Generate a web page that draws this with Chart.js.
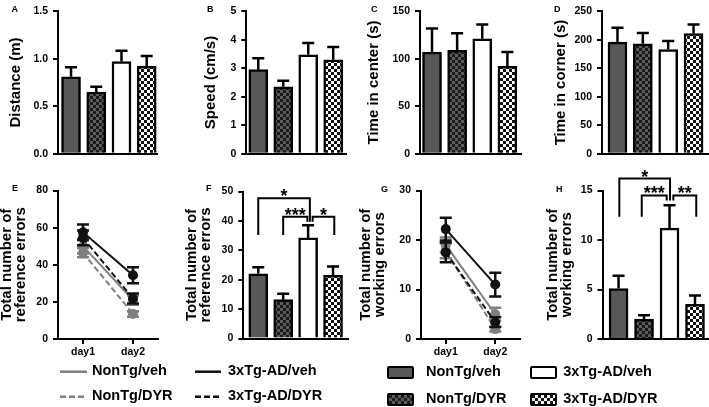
<!DOCTYPE html>
<html><head><meta charset="utf-8">
<script src="https://cdn.jsdelivr.net/npm/chart.js@4/dist/chart.umd.min.js"></script>
<style>
html,body{margin:0;padding:0;background:#fff;overflow:hidden;}
#fig{position:relative;width:709px;height:407px;overflow:hidden;font-family:"Liberation Sans",Arial,sans-serif;font-weight:bold;color:#000;}
#fig canvas{position:absolute;}
.pl{position:absolute;font-size:9px;line-height:9px;}
.lg{position:absolute;font-size:14.5px;line-height:14.5px;white-space:nowrap;}
.box{position:absolute;box-sizing:border-box;width:27px;height:13px;border:2.5px solid #000;border-radius:2px;}
svg{position:absolute;left:0;top:0;}
</style></head><body><div id="fig"></div>
<script>
// ---------------- data ----------------
const groups = ['NonTg/veh', 'NonTg/DYR', '3xTg-AD/veh', '3xTg-AD/DYR'];
const days = ['day1', 'day2'];

const distance = [0.81, 0.65, 0.97, 0.92];
const distanceSem = [0.10, 0.055, 0.115, 0.11];
const speed = [2.95, 2.35, 3.47, 3.30];
const speedSem = [0.40, 0.21, 0.42, 0.45];
const centerTime = [107, 109, 121, 92];
const centerTimeSem = [25, 18, 15, 15];
const cornerTime = [196, 193, 183, 211];
const cornerTimeSem = [25, 19, 15, 16];
const refErrTotal = [22.0, 13.2, 34.2, 21.5];
const refErrTotalSem = [2.2, 2.0, 4.3, 3.0];
const workErrTotal = [5.1, 2.0, 11.2, 3.5];
const workErrTotalSem = [1.3, 0.4, 2.3, 0.9];

// daily reference errors (day1, day2) per group
const refNonTgVeh = [50, 21],   refNonTgVehSem = [4, 2.5];
const refNonTgDyr = [46.5, 13.5], refNonTgDyrSem = [2.5, 1.5];
const refTgVeh = [57.5, 34.3],  refTgVehSem = [4.2, 4.3];
const refTgDyr = [54.5, 21.8],  refTgDyrSem = [4, 2.7];
// daily working errors (day1, day2) per group
const workNonTgVeh = [19, 5],     workNonTgVehSem = [1.5, 1.3];
const workNonTgDyr = [17.8, 2.0], workNonTgDyrSem = [1.5, 0.5];
const workTgVeh = [22.2, 11],     workTgVehSem = [2.3, 2.4];
const workTgDyr = [17.5, 3.4],    workTgDyrSem = [2, 1];

// tick labels
const distTicks = ['0.0', '0.5', '1.0', '1.5'];
const speedTicks = ['0', '1', '2', '3', '4', '5'];
const centerTicks = ['0', '50', '100', '150'];
const cornerTicks = ['0', '50', '100', '150', '200', '250'];
const refDayTicks = ['0', '20', '40', '60', '80'];
const refTotTicks = ['0', '10', '20', '30', '40', '50'];
const workDayTicks = ['0', '10', '20', '30'];
const workTotTicks = ['0', '5', '10', '15'];

// significance brackets (x in group index units, y in axis units)
const refSig = [
  {x1: 0, x2: 2.07, y: 47.7, y1: 35.2, y2: 39.7, label: '*'},
  {x1: 1, x2: 1.97, y: 41.4, y1: 35.2, y2: 39.7, label: '***'},
  {x1: 2.18, x2: 3.05, y: 41.4, y1: 39.7, y2: 35.2, label: '*'}
];
const workSig = [
  {x1: 0.03, x2: 2.02, y: 16.2, y1: 12.35, y2: 14.0, label: '*'},
  {x1: 0.91, x2: 1.89, y: 14.5, y1: 12.35, y2: 14.0, label: '***'},
  {x1: 2.15, x2: 3.05, y: 14.5, y1: 14.0, y2: 12.35, label: '**'}
];

// ---------------- style ----------------
const FONT = "'Liberation Sans', Arial, sans-serif";
Chart.defaults.font.family = FONT;
Chart.defaults.font.weight = 'bold';
Chart.defaults.color = '#000';
const GRAY = '#7f7f7f', BLACK = '#111111';
const fig = document.getElementById('fig');

function checker(c1, c2, s) {
  const p = document.createElement('canvas'); p.width = p.height = 2 * s;
  const g = p.getContext('2d');
  g.fillStyle = c1; g.fillRect(0, 0, 2 * s, 2 * s);
  g.fillStyle = c2; g.fillRect(0, 0, s, s); g.fillRect(s, s, s, s);
  return g.createPattern(p, 'repeat');
}
const FILLS = ['#585858', checker('#5c5c5c', '#1a1a1a', 3), '#ffffff', checker('#ffffff', '#111111', 3)];

function mkCanvas(x, y, w, h) {
  const c = document.createElement('canvas');
  c.width = w; c.height = h;
  c.style.left = x + 'px'; c.style.top = y + 'px';
  c.style.width = w + 'px'; c.style.height = h + 'px';
  fig.appendChild(c); return c;
}

const errPlugin = {
  id: 'errPlugin',
  afterDatasetDraw(chart, args) {
    const ds = chart.data.datasets[args.index];
    if (!ds.errorBars) return;
    const ys = chart.scales.y, ctx = chart.ctx;
    ctx.save();
    ctx.strokeStyle = ds.errColor || '#000'; ctx.lineWidth = 2.5; ctx.lineCap = 'butt';
    args.meta.data.forEach((el, i) => {
      const d = ds.data[i]; const v = (typeof d === 'object') ? d.y : d;
      const e = ds.errorBars[i];
      const x = el.x, yv = ys.getPixelForValue(v), yt = ys.getPixelForValue(v + e), yb = ys.getPixelForValue(v - e);
      ctx.beginPath();
      if (ds.errMode === 'up') { ctx.moveTo(x, yv); ctx.lineTo(x, yt); }
      else { ctx.moveTo(x, yb); ctx.lineTo(x, yt); ctx.moveTo(x - 6, yb); ctx.lineTo(x + 6, yb); }
      ctx.moveTo(x - 6, yt); ctx.lineTo(x + 6, yt);
      ctx.stroke();
    });
    ctx.restore();
  }
};

function bracketPlugin(items) {
  return {
    id: 'brackets',
    afterDraw(chart) {
      const xs = chart.scales.x, ys = chart.scales.y, ctx = chart.ctx;
      ctx.save();
      ctx.strokeStyle = '#000'; ctx.lineWidth = 2; ctx.lineJoin = 'miter';
      ctx.fillStyle = '#000'; ctx.font = 'bold 18px ' + FONT;
      ctx.textAlign = 'center'; ctx.textBaseline = 'alphabetic';
      items.forEach(b => {
        const x1 = xs.getPixelForValue(b.x1), x2 = xs.getPixelForValue(b.x2);
        const y = ys.getPixelForValue(b.y);
        ctx.beginPath();
        ctx.moveTo(x1, ys.getPixelForValue(b.y1)); ctx.lineTo(x1, y);
        ctx.lineTo(x2, y); ctx.lineTo(x2, ys.getPixelForValue(b.y2));
        ctx.stroke();
        ctx.fillText(b.label, (x1 + x2) / 2, y + 4);
      });
      ctx.restore();
    }
  };
}

function yScale(p) {
  const vals = p.ticks.map(Number);
  return {
    type: 'linear', min: vals[0], max: vals[vals.length - 1],
    afterBuildTicks: s => { s.ticks = vals.map(v => ({value: v})); },
    afterFit: s => { s.width = p.L - p.cx; },
    ticks: {font: {size: 10.5, weight: 'bold'}, color: '#000', padding: 5,
            callback: (v, i) => p.ticks[i]},
    grid: {display: true, drawOnChartArea: false, drawTicks: true, tickLength: 5, lineWidth: 2, color: '#000'},
    border: {display: true, width: 2, color: '#000'},
    title: {display: true, text: p.title, color: '#000',
            font: {size: 15, weight: 'bold', lineHeight: Array.isArray(p.title) ? 14 / 15 : 1},
            padding: {top: p.tpad, bottom: 0}}
  };
}

function baseOptions(p) {
  return {
    responsive: false, animation: false, events: [],
    layout: {padding: {left: 0, top: p.T - p.cy, right: p.cx + p.cw - p.R, bottom: 0}},
    plugins: {legend: {display: false}, tooltip: {enabled: false}}
  };
}

function barChart(p) {
  const c = mkCanvas(p.cx, p.cy, p.cw, p.ch);
  const opts = baseOptions(p);
  opts.scales = {
    x: {type: 'linear', min: p.xmin, max: p.xmax, offset: false,
        afterFit: s => { s.height = p.cy + p.ch - p.B; },
        ticks: {display: false}, grid: {display: false, drawTicks: false, offset: false},
        border: {display: true, width: 2, color: '#000'}},
    y: yScale(p)
  };
  return new Chart(c, {
    type: 'bar',
    data: {datasets: [{
      label: Array.isArray(p.title) ? p.title.join(' ') : p.title,
      data: p.values.map((v, i) => ({x: i, y: v})),
      backgroundColor: FILLS, borderColor: '#000', borderWidth: 2.5, borderSkipped: 'start',
      barThickness: 19, errorBars: p.sem, errMode: 'up'
    }]},
    options: opts,
    plugins: [errPlugin].concat(p.brackets ? [bracketPlugin(p.brackets)] : [])
  });
}

function lineChart(p) {
  const c = mkCanvas(p.cx, p.cy, p.cw, p.ch);
  const opts = baseOptions(p);
  opts.scales = {
    x: {type: 'category', offset: true,
        afterFit: s => { s.height = p.cy + p.ch - p.B; },
        ticks: {font: {size: 10.5, weight: 'bold'}, color: '#000', padding: 2},
        grid: {display: true, drawOnChartArea: false, drawTicks: true, tickLength: 5, lineWidth: 2, color: '#000', offset: false},
        border: {display: true, width: 2, color: '#000'}},
    y: yScale(p)
  };
  const mk = (label, data, sem, color, dash, order) => ({
    label, data, errorBars: sem, errMode: 'both', errColor: color,
    borderColor: color, backgroundColor: color, pointBackgroundColor: color,
    borderWidth: 2, borderDash: dash, pointRadius: 5, pointBorderWidth: 0, tension: 0, order
  });
  return new Chart(c, {
    type: 'line',
    data: {labels: days, datasets: [
      mk(groups[0], p.s[0], p.e[0], GRAY, [], 3),
      mk(groups[1], p.s[1], p.e[1], GRAY, [6, 3], 2),
      mk(groups[2], p.s[2], p.e[2], BLACK, [], 0),
      mk(groups[3], p.s[3], p.e[3], BLACK, [6, 3], 1)
    ]},
    options: opts,
    plugins: [errPlugin]
  });
}

// ---------------- panels ----------------
barChart({cx: 0, cy: 0, cw: 170, ch: 165, L: 58, T: 7, R: 157.3, B: 154, xmin: -0.516, xmax: 3.42,
  ticks: distTicks, title: 'Distance (m)', tpad: 8.2, values: distance, sem: distanceSem});
barChart({cx: 175, cy: 0, cw: 175, ch: 165, L: 246.3, T: 7, R: 346.7, B: 154, xmin: -0.48, xmax: 3.54,
  ticks: speedTicks, title: 'Speed (cm/s)', tpad: 28.5, values: speed, sem: speedSem});
barChart({cx: 350, cy: 0, cw: 175, ch: 165, L: 420, T: 7, R: 521.7, B: 154, xmin: -0.478, xmax: 3.57,
  ticks: centerTicks, title: 'Time in center (s)', tpad: 16.5, values: centerTime, sem: centerTimeSem});
barChart({cx: 525, cy: 0, cw: 184, ch: 165, L: 602, T: 7, R: 708, B: 154, xmin: -0.61, xmax: 3.57,
  ticks: cornerTicks, title: 'Time in corner (s)', tpad: 28.5, values: cornerTime, sem: cornerTimeSem});

lineChart({cx: 0, cy: 175, cw: 170, ch: 190, L: 58, T: 190.5, R: 158, B: 339,
  ticks: refDayTicks, title: ['Total number of', 'reference errors'], tpad: 0.3,
  s: [refNonTgVeh, refNonTgDyr, refTgVeh, refTgDyr], e: [refNonTgVehSem, refNonTgDyrSem, refTgVehSem, refTgDyrSem]});
barChart({cx: 175, cy: 170, cw: 175, ch: 185, L: 243.3, T: 191.5, R: 348, B: 338.5, xmin: -0.6, xmax: 3.6,
  ticks: refTotTicks, title: ['Total number of', 'reference errors'], tpad: 9.8,
  values: refErrTotal, sem: refErrTotalSem, brackets: refSig});
lineChart({cx: 350, cy: 175, cw: 175, ch: 190, L: 421, T: 190.5, R: 521, B: 339,
  ticks: workDayTicks, title: ['Total number of', 'working errors'], tpad: 9,
  s: [workNonTgVeh, workNonTgDyr, workTgVeh, workTgDyr], e: [workNonTgVehSem, workNonTgDyrSem, workTgVehSem, workTgDyrSem]});
barChart({cx: 525, cy: 160, cw: 184, ch: 195, L: 602.5, T: 190.5, R: 708, B: 339, xmin: -0.63, xmax: 3.51,
  ticks: workTotTicks, title: ['Total number of', 'working errors'], tpad: 20.8,
  values: workErrTotal, sem: workErrTotalSem, brackets: workSig});

// ---------------- panel letters ----------------
[['A', 11.5, 4.8], ['B', 207, 4.8], ['C', 371, 4.8], ['D', 554, 4.8],
 ['E', 12, 183.8], ['F', 206, 183.8], ['G', 381, 184.8], ['H', 556, 184.8]].forEach(([t, x, y]) => {
  const d = document.createElement('div'); d.className = 'pl'; d.textContent = t;
  d.style.left = x + 'px'; d.style.top = y + 'px'; fig.appendChild(d);
});

// ---------------- legends ----------------
const svgNS = 'http://www.w3.org/2000/svg';
const svg = document.createElementNS(svgNS, 'svg');
svg.setAttribute('width', 709); svg.setAttribute('height', 407);
fig.appendChild(svg);
function sline(x1, x2, y, color, dash) {
  const l = document.createElementNS(svgNS, 'line');
  l.setAttribute('x1', x1); l.setAttribute('x2', x2); l.setAttribute('y1', y); l.setAttribute('y2', y);
  l.setAttribute('stroke', color); l.setAttribute('stroke-width', 2.5);
  if (dash) l.setAttribute('stroke-dasharray', dash);
  svg.appendChild(l);
}
function text(t, x, y) {
  const d = document.createElement('div'); d.className = 'lg'; d.textContent = t;
  d.style.left = x + 'px'; d.style.top = y + 'px'; fig.appendChild(d);
}
function box(x, y, bg) {
  const d = document.createElement('div'); d.className = 'box';
  d.style.left = x + 'px'; d.style.top = y + 'px'; d.style.background = bg; fig.appendChild(d);
}
// line legend (E)
sline(60, 87, 371.7, GRAY); text(groups[0], 92, 363.2);
sline(195, 221, 371.7, BLACK); text(groups[2], 228, 363.2);
sline(60, 87, 396.7, GRAY, '6 3'); text(groups[1], 92, 388.2);
sline(195, 221, 396.7, BLACK, '6 3'); text(groups[3], 228, 388.2);
// bar legend
box(387.3, 366, '#585858'); text(groups[0], 426, 364.2);
box(530, 366, '#ffffff'); text(groups[2], 563.3, 364.2);
box(387.3, 392.5, 'repeating-conic-gradient(#5c5c5c 0 25%, #1a1a1a 0 50%) 0 0 / 6px 6px'); text(groups[1], 426, 391.4);
box(530, 392.5, 'repeating-conic-gradient(#ffffff 0 25%, #111111 0 50%) 0 0 / 6px 6px'); text(groups[3], 563.3, 391.4);
</script>
</body></html>
